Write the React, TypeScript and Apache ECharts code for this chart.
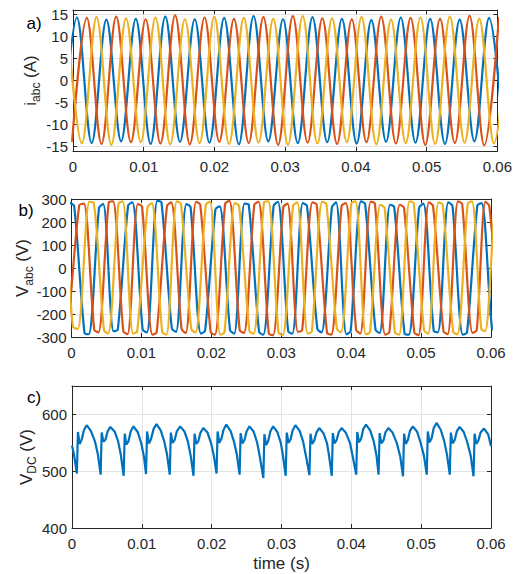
import React, { useEffect, useRef } from 'react';
import * as echarts from 'echarts';

// ---------- tick labels ----------
const xTicks = [0, 0.01, 0.02, 0.03, 0.04, 0.05, 0.06];
const xTickLabels = ['0', '0.01', '0.02', '0.03', '0.04', '0.05', '0.06'];
const iTicks = [-15, -10, -5, 0, 5, 10, 15];
const vTicks = [-300, -200, -100, 0, 100, 200, 300];
const dcTicks = [400, 500, 600];

// ---------- a) phase currents (extrema read from the picture) ----------
const iaT = [-0.00152, 0.00056, 0.00264, 0.00472, 0.0068, 0.00888, 0.01097, 0.01305, 0.01513, 0.01721, 0.01929, 0.02137, 0.02345, 0.02553, 0.02761, 0.02969, 0.03178, 0.03386, 0.03594, 0.03802, 0.0401, 0.04218, 0.04426, 0.04634, 0.04842, 0.0505, 0.05258, 0.05467, 0.05675, 0.05883, 0.06091];
const iaV = [-14.0, 14.3, -14.2, 13.8, -13.8, 14.0, -14.4, 14.5, -13.9, 13.9, -14.1, 14.2, -14.5, 14.6, -13.8, 13.9, -14.2, 14.4, -14.0, 14.0, -14.3, 13.7, -13.9, 14.3, -14.1, 14.0, -14.4, 13.8, -13.8, 14.2, -14.0];

const ibT = [-0.00013, 0.00195, 0.00403, 0.00611, 0.00819, 0.01027, 0.01236, 0.01444, 0.01652, 0.0186, 0.02068, 0.02276, 0.02484, 0.02692, 0.029, 0.03108, 0.03317, 0.03525, 0.03733, 0.03941, 0.04149, 0.04357, 0.04565, 0.04773, 0.04981, 0.05189, 0.05398, 0.05606, 0.05814, 0.06022];
const ibV = [-13.9, 14.2, -14.4, 14.5, -14.0, 13.9, -14.3, 14.8, -14.5, 14.3, -13.9, 14.0, -14.2, 14.4, -14.6, 14.6, -14.1, 14.1, -14.4, 13.9, -14.0, 14.5, -14.3, 14.2, -14.6, 14.0, -14.2, 14.7, -14.7, 14.4];

const icT = [-0.00083, 0.00125, 0.00333, 0.00542, 0.0075, 0.00958, 0.01166, 0.01374, 0.01582, 0.0179, 0.01998, 0.02207, 0.02415, 0.02623, 0.02831, 0.03039, 0.03247, 0.03455, 0.03663, 0.03871, 0.04079, 0.04288, 0.04496, 0.04704, 0.04912, 0.0512, 0.05328, 0.05536, 0.05744, 0.05952, 0.0616];
const icV = [14.2, -14.3, 14.4, -14.6, 14.1, -14.0, 14.3, -14.5, 13.9, -14.2, 14.5, -14.4, 14.2, -14.1, 14.0, -14.6, 14.6, -14.3, 14.1, -14.0, 14.4, -14.5, 13.8, -14.2, 14.3, -14.4, 14.5, -14.1, 14.0, -14.3, 14.2];

// ---------- b) phase voltages ----------
const vaT = [-0.0023, -0.0017, -0.00022, 0.00038, 0.00186, 0.00246, 0.00394, 0.00454, 0.00602, 0.00662, 0.0081, 0.0087, 0.01018, 0.01078, 0.01227, 0.01287, 0.01435, 0.01495, 0.01643, 0.01703, 0.01851, 0.01911, 0.02059, 0.02119, 0.02267, 0.02327, 0.02475, 0.02535, 0.02683, 0.02743, 0.02891, 0.02951, 0.03099, 0.03159, 0.03308, 0.03368, 0.03516, 0.03576, 0.03724, 0.03784, 0.03932, 0.03992, 0.0414, 0.042, 0.04348, 0.04408, 0.04556, 0.04616, 0.04764, 0.04824, 0.04972, 0.05032, 0.0518, 0.0524, 0.05389, 0.05449, 0.05597, 0.05657, 0.05805, 0.05865, 0.06013, 0.06073];
const vaV = [-270, -285, 282, 270, -282, -288, 262, 278, -275, -268, 272, 285, -268, -280, 292, 285, -262, -278, 278, 265, -285, -272, 255, 268, -270, -285, 280, 275, -278, -290, 270, 288, -275, -285, 282, 270, -265, -280, 262, 285, -288, -275, 290, 278, -268, -282, 275, 265, -285, -290, 262, 280, -272, -280, 285, 270, -290, -280, 272, 282, -260, -275];

const vbT = [-0.0011, -0.0006, 0.0011, 0.00177, 0.00325, 0.00385, 0.00533, 0.00593, 0.00741, 0.00801, 0.00949, 0.01009, 0.01158, 0.01218, 0.01366, 0.01426, 0.01574, 0.01634, 0.01782, 0.01842, 0.0199, 0.0205, 0.02198, 0.02258, 0.02406, 0.02466, 0.02614, 0.02674, 0.02822, 0.02882, 0.0303, 0.0309, 0.03239, 0.03299, 0.03447, 0.03507, 0.03655, 0.03715, 0.03863, 0.03923, 0.04071, 0.04131, 0.04279, 0.04339, 0.04487, 0.04547, 0.04695, 0.04755, 0.04903, 0.04963, 0.05111, 0.05171, 0.0532, 0.0538, 0.05528, 0.05588, 0.05736, 0.05796, 0.0592, 0.05975, 0.06152, 0.06212];
const vbV = [-285, -275, 272, 280, -268, -280, 285, 290, -275, -288, 278, 268, -290, -280, 270, 285, -265, -282, 288, 275, -278, -290, 280, 292, -270, -282, 275, 288, -285, -292, 265, 280, -278, -270, 285, 275, -282, -290, 270, 282, -268, -285, 288, 280, -290, -278, 275, 262, -280, -292, 285, 270, -275, -288, 290, 278, -282, -270, 288, 270, -280, -285];

const vcT = [-0.0016, -0.0011, 0.0002, 0.0009, 0.00256, 0.00316, 0.00464, 0.00524, 0.00672, 0.00732, 0.0088, 0.0094, 0.01088, 0.01148, 0.01297, 0.01357, 0.01505, 0.01565, 0.01713, 0.01773, 0.01921, 0.01981, 0.02129, 0.02189, 0.02337, 0.02397, 0.02545, 0.02605, 0.02753, 0.02813, 0.02961, 0.03021, 0.03169, 0.03229, 0.03378, 0.03438, 0.03586, 0.03646, 0.03794, 0.03854, 0.04002, 0.04062, 0.0421, 0.0427, 0.04418, 0.04478, 0.04626, 0.04686, 0.04834, 0.04894, 0.05042, 0.05102, 0.0525, 0.0531, 0.05459, 0.05519, 0.05667, 0.05727, 0.0586, 0.05915, 0.0606, 0.0612];
const vcV = [280, 268, -255, -265, 288, 285, -270, -285, 280, 290, -285, -275, 265, 282, -278, -290, 290, 280, -265, -280, 275, 288, -290, -278, 282, 270, -275, -285, 285, 290, -280, -292, 270, 285, -285, -275, 288, 278, -262, -280, 282, 290, -288, -278, 275, 262, -280, -290, 290, 282, -270, -285, 285, 275, -278, -288, 280, 290, -265, -275, 282, 288];

// ---------- c) DC-link voltage ----------
const dcT = [0, 0.0003,
  0.0007, 0.00085, 0.0011, 0.0014, 0.0017, 0.0021, 0.0027, 0.0033, 0.0037,
  0.0041, 0.00425, 0.0045, 0.0048, 0.0051, 0.0055, 0.0061, 0.0066, 0.007,
  0.0074, 0.00755, 0.0078, 0.0081, 0.0084, 0.0088, 0.0094, 0.0099, 0.0103,
  0.0106, 0.01075, 0.011, 0.0113, 0.0117, 0.0121, 0.0127, 0.0132, 0.0136,
  0.014, 0.01415, 0.0144, 0.0147, 0.015, 0.0155, 0.0161, 0.0166, 0.017,
  0.0174, 0.01755, 0.0178, 0.0181, 0.0184, 0.0188, 0.0194, 0.0199, 0.0203,
  0.0207, 0.02085, 0.0211, 0.0214, 0.0217, 0.0221, 0.0227, 0.0232, 0.0236,
  0.024, 0.02415, 0.0244, 0.0247, 0.025, 0.0254, 0.026, 0.0265, 0.0269,
  0.0274, 0.02755, 0.0278, 0.0281, 0.0284, 0.0288, 0.0294, 0.0299, 0.0302,
  0.0306, 0.03075, 0.031, 0.0313, 0.0316, 0.032, 0.0326, 0.0331, 0.0335,
  0.034, 0.03415, 0.0344, 0.0347, 0.035, 0.0354, 0.036, 0.0365, 0.0368,
  0.0372, 0.03735, 0.0376, 0.0379, 0.0382, 0.0386, 0.0392, 0.0398, 0.0402,
  0.0407, 0.04085, 0.0411, 0.0414, 0.0417, 0.0421, 0.0427, 0.0432, 0.0436,
  0.0439, 0.04405, 0.0443, 0.0446, 0.0449, 0.0453, 0.0459, 0.0465, 0.047,
  0.0474, 0.04755, 0.0478, 0.0481, 0.0484, 0.0488, 0.0494, 0.0499, 0.0504,
  0.0508, 0.05095, 0.0512, 0.0515, 0.0518, 0.0522, 0.0528, 0.0533, 0.0537,
  0.0541, 0.05425, 0.0545, 0.0548, 0.0551, 0.0555, 0.0561, 0.0566, 0.0571,
  0.0575, 0.05765, 0.0579, 0.0582, 0.0585, 0.059, 0.0596, 0.06];
const dcV = [545, 528,
  496, 569, 548, 556, 572, 581, 571, 552, 530,
  494, 568, 552, 556, 570, 578, 570, 553, 528,
  492, 566, 547, 553, 570, 579, 569, 550, 526,
  495, 570, 549, 556, 575, 583, 572, 553, 530,
  494, 568, 550, 555, 570, 579, 570, 552, 527,
  492, 566, 548, 553, 568, 576, 568, 550, 528,
  496, 570, 550, 557, 573, 582, 571, 552, 530,
  494, 567, 549, 555, 570, 579, 570, 551, 525,
  488, 565, 546, 553, 570, 579, 569, 550, 528,
  492, 568, 550, 556, 572, 581, 571, 552, 527,
  493, 566, 548, 554, 568, 576, 567, 550, 528,
  492, 567, 549, 555, 569, 576, 568, 550, 526,
  494, 569, 551, 557, 574, 582, 572, 553, 528,
  494, 567, 549, 554, 569, 576, 568, 550, 526,
  491, 566, 548, 555, 571, 579, 570, 551, 527,
  494, 570, 551, 558, 576, 585, 573, 553, 529,
  494, 568, 549, 555, 570, 578, 569, 551, 527,
  491, 566, 548, 554, 568, 575, 565, 544];

const BLUE = '#0072BD';
const ORANGE = '#D95319';
const YELLOW = '#EDB120';
const TXT = '#262626';
const GRIDC = '#e3e3e3';
const FONT = '"Liberation Sans", Arial, Helvetica, sans-serif';

const pairs = (t: number[], v: number[]) => t.map((x, i) => [x, v[i]]);

export default function App() {
  const ref = useRef<HTMLDivElement>(null);
  useEffect(() => {
    if (!ref.current) return;
    const chart = echarts.init(ref.current, null, { renderer: 'svg' });

    const grids = [
      { left: 73, top: 10, width: 428, height: 141 },
      { left: 71.5, top: 199, width: 419.5, height: 138 },
      { left: 72, top: 386, width: 419, height: 142 },
    ];
    const yRanges = [
      { min: -16, max: 16, ticks: iTicks },
      { min: -300, max: 300, ticks: vTicks },
      { min: 400, max: 650, ticks: dcTicks },
    ];
    const yNames = [
      '{m|i}{s|abc}{m| (A)}',
      '{m|V}{s|abc}{m| (V)}',
      '{m|V}{s|DC}{m| (V)}',
    ];
    const yGaps = [31, 37, 34];

    const rich = {
      m: { fontSize: 17, fontFamily: FONT, color: TXT, lineHeight: 24 },
      s: { fontSize: 12, fontFamily: FONT, color: TXT, lineHeight: 8, verticalAlign: 'bottom' },
    };

    const xAxes: any[] = [];
    const yAxes: any[] = [];
    grids.forEach((g, i) => {
      xAxes.push({
        type: 'value', gridIndex: i, min: 0, max: 0.06, interval: 0.01, position: 'bottom',
        axisLine: { show: true, onZero: false, lineStyle: { color: TXT, width: 1 } },
        axisTick: { show: true, inside: true, length: 4, lineStyle: { color: TXT } },
        axisLabel: {
          show: true, margin: 8, fontSize: 15, fontFamily: FONT, color: TXT,
          formatter: (v: number) => {
            const k = xTicks.findIndex((x) => Math.abs(x - v) < 1e-9);
            return k >= 0 ? xTickLabels[k] : '';
          },
        },
        splitLine: { show: true, lineStyle: { color: GRIDC, width: 1 } },
        name: i === 2 ? 'time (s)' : '',
        nameLocation: 'middle', nameGap: 27, nameMoveOverlap: false,
        nameTextStyle: { fontSize: 17, fontFamily: FONT, color: TXT },
      });
      xAxes.push({
        type: 'value', gridIndex: i, min: 0, max: 0.06, interval: 0.01, position: 'top',
        axisLine: { show: true, onZero: false, lineStyle: { color: TXT, width: 1 } },
        axisTick: { show: true, inside: true, length: 4, lineStyle: { color: TXT } },
        axisLabel: { show: false },
        splitLine: { show: false },
      });
      const r = yRanges[i];
      yAxes.push({
        type: 'value', gridIndex: i, min: r.min, max: r.max, position: 'left',
        axisLine: { show: true, onZero: false, lineStyle: { color: TXT, width: 1 } },
        axisTick: { show: true, inside: true, length: 4, customValues: r.ticks, lineStyle: { color: TXT } },
        axisLabel: { show: true, margin: 5, fontSize: 15, fontFamily: FONT, color: TXT, customValues: r.ticks },
        splitLine: { show: true, lineStyle: { color: GRIDC, width: 1 } },
        name: yNames[i], nameLocation: 'middle', nameGap: yGaps[i], nameRotate: 90, nameMoveOverlap: false,
        nameTextStyle: { rich },
      });
      yAxes.push({
        type: 'value', gridIndex: i, min: r.min, max: r.max, position: 'right',
        axisLine: { show: true, onZero: false, lineStyle: { color: TXT, width: 1 } },
        axisTick: { show: true, inside: true, length: 4, customValues: r.ticks, lineStyle: { color: TXT } },
        axisLabel: { show: false, customValues: r.ticks },
        splitLine: { show: false },
      });
    });

    const line = (data: number[][], color: string, gi: number, smooth: number | boolean) => ({
      type: 'line', data, xAxisIndex: gi * 2, yAxisIndex: gi * 2, showSymbol: false, symbol: 'none',
      smooth, clip: true, lineStyle: { color, width: 2.2 }, itemStyle: { color },
    });

    chart.setOption({
      animation: false,
      backgroundColor: '#ffffff',
      grid: grids.map((g) => ({ ...g, containLabel: false })),
      xAxis: xAxes,
      yAxis: yAxes,
      series: [
        line(pairs(iaT, iaV), BLUE, 0, 0.35),
        line(pairs(ibT, ibV), ORANGE, 0, 0.35),
        line(pairs(icT, icV), YELLOW, 0, 0.35),
        line(pairs(vaT, vaV), BLUE, 1, 0.3),
        line(pairs(vbT, vbV), ORANGE, 1, 0.3),
        line(pairs(vcT, vcV), YELLOW, 1, 0.3),
        line(pairs(dcT, dcV), BLUE, 2, false),
      ],
      graphic: [
        { type: 'text', x: 34, y: 23, style: { text: 'a)', fontSize: 17, fontFamily: FONT, fill: '#000', align: 'center', verticalAlign: 'middle' } },
        { type: 'text', x: 26, y: 210, style: { text: 'b)', fontSize: 17, fontFamily: FONT, fill: '#000', align: 'center', verticalAlign: 'middle' } },
        { type: 'text', x: 34, y: 397, style: { text: 'c)', fontSize: 17, fontFamily: FONT, fill: '#000', align: 'center', verticalAlign: 'middle' } },
      ],
    });
    return () => chart.dispose();
  }, []);
  return <div ref={ref} style={{ position: 'fixed', left: 0, top: 0, width: 515, height: 574 }} />;
}
